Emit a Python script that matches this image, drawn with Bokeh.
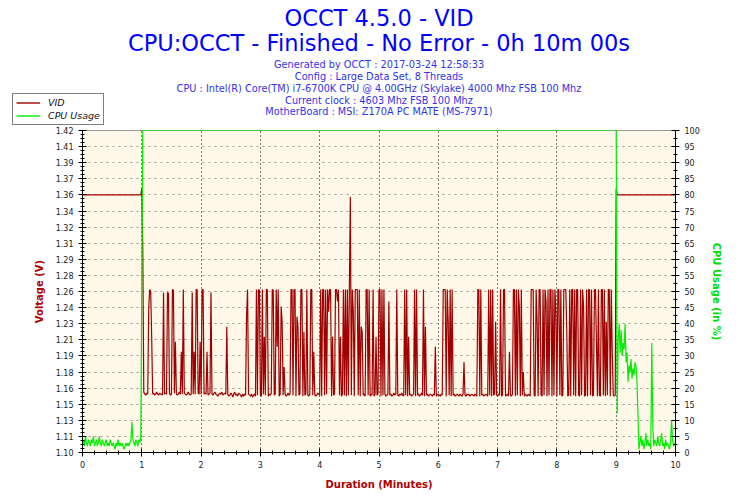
from bokeh.plotting import figure
from bokeh.models import Range1d, LinearAxis, FixedTicker, Legend, LegendItem, Label
from bokeh.embed import file_html
from bokeh.resources import INLINE

# ---------------- data ----------------
title_lines = ["OCCT 4.5.0 - VID", "CPU:OCCT - Finished - No Error - 0h 10m 00s"]
info_lines = [
    "Generated by OCCT : 2017-03-24 12:58:33",
    "Config : Large Data Set, 8 Threads",
    "CPU : Intel(R) Core(TM) i7-6700K CPU @ 4.00GHz (Skylake) 4000 Mhz FSB 100 Mhz",
    "Current clock : 4603 Mhz FSB 100 Mhz",
    "MotherBoard : MSI: Z170A PC MATE (MS-7971)",
]
legend_labels = ["VID", "CPU Usage"]

x_ticks = [0, 1, 2, 3, 4, 5, 6, 7, 8, 9, 10]
volt_tick_labels = ["1.10", "1.11", "1.13", "1.15", "1.16", "1.18", "1.19", "1.21", "1.23", "1.24",
                    "1.26", "1.28", "1.29", "1.31", "1.32", "1.34", "1.36", "1.37", "1.39", "1.41", "1.42"]
cpu_ticks = [0, 5, 10, 15, 20, 25, 30, 35, 40, 45, 50, 55, 60, 65, 70, 75, 80, 85, 90, 95, 100]

# VID (V): idle part, per-second load part (from 60 s), idle tail
vid_head_s = [0, 59]
vid_head_v = [1.356, 1.356]
vid_load_start_s = 60
vid_load_v = [
    1.362, 1.300, 1.160, 1.158, 1.157, 1.159, 1.158, 1.243, 1.262, 1.260,
    1.214, 1.158, 1.159, 1.157, 1.158, 1.160, 1.158, 1.157, 1.159, 1.158,
    1.158, 1.157, 1.259, 1.158, 1.159, 1.158, 1.259, 1.258, 1.159, 1.157,
    1.158, 1.262, 1.261, 1.159, 1.210, 1.158, 1.157, 1.158, 1.160, 1.158,
    1.200, 1.158, 1.262, 1.159, 1.158, 1.157, 1.158, 1.160, 1.158, 1.157,
    1.158, 1.259, 1.158, 1.200, 1.158, 1.262, 1.262, 1.159, 1.158, 1.210,
    1.158, 1.262, 1.262, 1.158, 1.159, 1.158, 1.200, 1.157, 1.158, 1.159,
    1.259, 1.158, 1.157, 1.159, 1.160, 1.158, 1.157, 1.156, 1.158, 1.159,
    1.158, 1.160, 1.157, 1.158, 1.159, 1.158, 1.225, 1.158, 1.156, 1.157,
    1.159, 1.158, 1.155, 1.158, 1.160, 1.157, 1.158, 1.156, 1.159, 1.158,
    1.157, 1.155, 1.158, 1.156, 1.158, 1.157, 1.236, 1.262, 1.158, 1.157,
    1.156, 1.158, 1.155, 1.157, 1.158, 1.156, 1.262, 1.157, 1.262, 1.261,
    1.157, 1.156, 1.262, 1.158, 1.215, 1.157, 1.262, 1.262, 1.156, 1.158,
    1.157, 1.159, 1.262, 1.261, 1.157, 1.158, 1.262, 1.205, 1.262, 1.156,
    1.158, 1.245, 1.230, 1.157, 1.185, 1.158, 1.156, 1.157, 1.159, 1.157,
    1.158, 1.262, 1.262, 1.157, 1.262, 1.262, 1.156, 1.235, 1.225, 1.157,
    1.158, 1.262, 1.262, 1.156, 1.220, 1.157, 1.158, 1.262, 1.157, 1.156,
    1.158, 1.262, 1.262, 1.157, 1.200, 1.158, 1.156, 1.157, 1.159, 1.158,
    1.157, 1.262, 1.156, 1.262, 1.262, 1.157, 1.262, 1.158, 1.262, 1.240,
    1.262, 1.262, 1.156, 1.215, 1.157, 1.158, 1.262, 1.262, 1.250, 1.262,
    1.157, 1.215, 1.156, 1.158, 1.262, 1.157, 1.262, 1.156, 1.262, 1.157,
    1.262, 1.354, 1.157, 1.262, 1.240, 1.156, 1.262, 1.262, 1.262, 1.157,
    1.262, 1.156, 1.225, 1.220, 1.157, 1.158, 1.156, 1.262, 1.262, 1.157,
    1.262, 1.156, 1.158, 1.157, 1.262, 1.156, 1.158, 1.215, 1.157, 1.158,
    1.262, 1.262, 1.156, 1.262, 1.157, 1.262, 1.158, 1.156, 1.157, 1.158,
    1.250, 1.157, 1.158, 1.156, 1.157, 1.159, 1.157, 1.158, 1.262, 1.157,
    1.156, 1.158, 1.157, 1.159, 1.157, 1.156, 1.262, 1.157, 1.262, 1.156,
    1.215, 1.157, 1.158, 1.156, 1.157, 1.158, 1.262, 1.156, 1.262, 1.157,
    1.158, 1.156, 1.157, 1.159, 1.157, 1.262, 1.156, 1.225, 1.157, 1.158,
    1.156, 1.157, 1.158, 1.157, 1.156, 1.158, 1.157, 1.205, 1.156, 1.157,
    1.158, 1.157, 1.156, 1.158, 1.157, 1.262, 1.262, 1.262, 1.156, 1.262,
    1.230, 1.157, 1.262, 1.156, 1.262, 1.157, 1.158, 1.156, 1.157, 1.158,
    1.157, 1.156, 1.158, 1.157, 1.156, 1.158, 1.190, 1.157, 1.156, 1.158,
    1.157, 1.158, 1.156, 1.157, 1.158, 1.157, 1.156, 1.158, 1.157, 1.156,
    1.262, 1.262, 1.156, 1.262, 1.157, 1.158, 1.156, 1.157, 1.158, 1.157,
    1.156, 1.262, 1.157, 1.262, 1.156, 1.262, 1.157, 1.158, 1.230, 1.157,
    1.156, 1.158, 1.157, 1.262, 1.156, 1.157, 1.262, 1.262, 1.156, 1.157,
    1.158, 1.156, 1.200, 1.157, 1.156, 1.158, 1.262, 1.262, 1.156, 1.262,
    1.157, 1.262, 1.245, 1.156, 1.262, 1.157, 1.180, 1.156, 1.158, 1.157,
    1.156, 1.158, 1.157, 1.156, 1.262, 1.262, 1.262, 1.157, 1.156, 1.262,
    1.230, 1.156, 1.262, 1.262, 1.157, 1.156, 1.262, 1.157, 1.262, 1.250,
    1.156, 1.262, 1.157, 1.262, 1.262, 1.156, 1.262, 1.157, 1.262, 1.240,
    1.156, 1.262, 1.262, 1.157, 1.262, 1.156, 1.157, 1.262, 1.262, 1.262,
    1.220, 1.156, 1.157, 1.262, 1.156, 1.262, 1.262, 1.157, 1.262, 1.156,
    1.262, 1.262, 1.157, 1.156, 1.262, 1.157, 1.262, 1.245, 1.156, 1.157,
    1.262, 1.156, 1.262, 1.262, 1.157, 1.262, 1.156, 1.157, 1.262, 1.262,
    1.210, 1.156, 1.262, 1.157, 1.156, 1.262, 1.262, 1.157, 1.262, 1.156,
    1.230, 1.157, 1.262, 1.262, 1.156, 1.262, 1.200, 1.157, 1.156, 1.157,
    1.362,
]
vid_tail_s = [541, 600]
vid_tail_v = [1.356, 1.356]

# CPU usage (%): per-second idle, load plateau, per-second cool-down
cpu_idle_start_s = 0
cpu_idle_v = [
    3, 4, 2, 5, 3, 2, 4, 3, 2, 4,
    3, 5, 2, 3, 4, 2, 3, 5, 3, 2,
    4, 3, 2, 3, 4, 2, 3, 2, 4, 3,
    2, 3, 2, 1, 3, 2, 4, 2, 3, 2,
    3, 2, 1, 2, 3, 2, 3, 2, 3, 4,
    9.5, 4, 3, 2, 4, 3, 2, 4, 3, 5,
]
cpu_load_s = [60, 61, 540]
cpu_load_v = [52, 100, 100]
cpu_cool_start_s = 541
cpu_cool_v = [
    12, 35, 40, 31, 38, 30, 34, 32, 40, 28,
    31, 22, 27, 25, 29, 23, 26, 24, 28, 27,
    22, 12, 1, 3, 5, 2, 4, 1, 3, 6,
    2, 4, 2, 3, 1, 34, 8, 2, 4, 3,
    2, 5, 3, 2, 4, 6, 2, 3, 1, 4,
    2, 3, 2, 1, 3, 10, 4, 2, 3, 2,
]

# ---------------- build series (seconds -> minutes) ----------------
vid_s = vid_head_s + [vid_load_start_s + i for i in range(len(vid_load_v))] + vid_tail_s
vid_v = vid_head_v + vid_load_v + vid_tail_v
vid_x = [s / 60 for s in vid_s]

cpu_s = [cpu_idle_start_s + i for i in range(len(cpu_idle_v))] + cpu_load_s + \
        [cpu_cool_start_s + i for i in range(len(cpu_cool_v))]
cpu_v = cpu_idle_v + cpu_load_v + cpu_cool_v
cpu_x = [s / 60 for s in cpu_s]

FONT = "DejaVu Sans"
VID_COLOR = "#A00000"
CPU_COLOR = "#00EE00"
W = 742
TOP_H = 125
MAIN_H = 367

# ---------------- header (titles + legend); its frame is the whole canvas ----------------
head = figure(width=W, height=TOP_H, output_backend="svg", toolbar_location=None,
              x_range=Range1d(0, W), y_range=Range1d(0, TOP_H),
              x_axis_location=None, y_axis_location=None,
              min_border=0, outline_line_color=None,
              background_fill_color="white", border_fill_color="white")
head.grid.visible = False
head.title.visible = False

cx = 378.5
title_y = [17.5, 42.5]
for txt, yy in zip(title_lines, title_y):
    head.add_layout(Label(x=cx, y=TOP_H - yy + 0.5, text=txt, text_font=FONT,
                          text_font_size="22.5px", text_color="#0000FF",
                          text_align="center", text_baseline="middle"))
info_y = [63.5, 75.8, 87.8, 99.5, 111.2]
for txt, yy in zip(info_lines, info_y):
    head.add_layout(Label(x=cx, y=TOP_H - yy, text=txt, text_font=FONT,
                          text_font_size="9.75px", text_color="#3333EE",
                          text_align="center", text_baseline="middle"))

# legend swatch proxies (carry the series' line styles; their points lie outside the view)
lg_vid = head.line(x=[-60, -50], y=[-60, -50], line_color=VID_COLOR, line_width=1.4)
lg_cpu = head.line(x=[-60, -50], y=[-60, -50], line_color=CPU_COLOR, line_width=1.4)
legend = Legend(items=[LegendItem(label=legend_labels[0], renderers=[lg_vid]),
                       LegendItem(label=legend_labels[1], renderers=[lg_cpu])],
                location=(12, 0), orientation="vertical",
                background_fill_color="white", background_fill_alpha=1.0,
                border_line_color="black", border_line_width=1,
                label_text_font=FONT, label_text_font_style="italic",
                label_text_font_size="9.5px", label_text_color="#111111",
                glyph_width=24, glyph_height=11, label_height=11, label_standoff=8,
                spacing=2, padding=3, margin=0)
head.add_layout(legend, "center")

# ---------------- main chart ----------------
p = figure(width=W, height=MAIN_H, output_backend="svg", toolbar_location=None,
           x_range=Range1d(0, 10), y_range=Range1d(1.10, 1.42),
           min_border_left=82, min_border_right=67, min_border_top=5, min_border_bottom=39,
           background_fill_color="#FFF8E8", border_fill_color="white",
           outline_line_color="#999999")
p.title.visible = False
p.extra_y_ranges = {"cpu": Range1d(0, 100)}

volt_ticks = [round(1.10 + i * 0.016, 3) for i in range(len(volt_tick_labels))]
volt_minor = [round(1.10 + i * 0.004, 3) for i in range(81)]

def style_axis(ax):
    ax.axis_line_color = "black"
    ax.major_tick_line_color = "black"
    ax.minor_tick_line_color = "black"
    ax.major_tick_in = 4
    ax.major_tick_out = 4
    ax.minor_tick_in = 2
    ax.minor_tick_out = 2
    ax.major_label_text_font = FONT
    ax.major_label_text_font_size = "8px"
    ax.major_label_text_color = "#222222"
    ax.axis_label_text_font = FONT
    ax.axis_label_text_font_style = "bold"
    ax.axis_label_text_font_size = "10px"

xa = p.xaxis[0]
xa.ticker = FixedTicker(ticks=x_ticks, minor_ticks=[i * 0.2 for i in range(51)])
xa.axis_label = "Duration (Minutes)"
style_axis(xa)
xa.axis_label_text_color = "#B00000"
xa.axis_label_standoff = 8
xa.major_label_standoff = 4

ya = p.yaxis[0]
ya.ticker = FixedTicker(ticks=volt_ticks, minor_ticks=volt_minor)
ya.major_label_overrides = {t: lab for t, lab in zip(volt_ticks, volt_tick_labels)}
ya.axis_label = "Voltage (V)"
style_axis(ya)
ya.axis_label_text_color = "#B00000"
ya.axis_label_standoff = 8

ra = LinearAxis(y_range_name="cpu", axis_label="CPU Usage (in %)",
                ticker=FixedTicker(ticks=cpu_ticks, minor_ticks=[i * 2.5 for i in range(41)]))
style_axis(ra)
ra.axis_label_text_color = "#00DD00"
ra.axis_label_standoff = 8
p.add_layout(ra, "right")

p.xgrid.ticker = FixedTicker(ticks=x_ticks)
p.xgrid.grid_line_color = "black"
p.xgrid.grid_line_dash = "1 3"
p.ygrid.ticker = FixedTicker(ticks=volt_ticks)
p.ygrid.grid_line_color = "#999999"
p.ygrid.grid_line_dash = "2 4"

p.line(vid_x, vid_v, line_color=VID_COLOR, line_width=1.2)
p.line(cpu_x, cpu_v, line_color=CPU_COLOR, line_width=1.2, y_range_name="cpu")

# two independent roots stacked on the page (no frame alignment between them)
open("out.html", "w").write(file_html([head, p], INLINE))
